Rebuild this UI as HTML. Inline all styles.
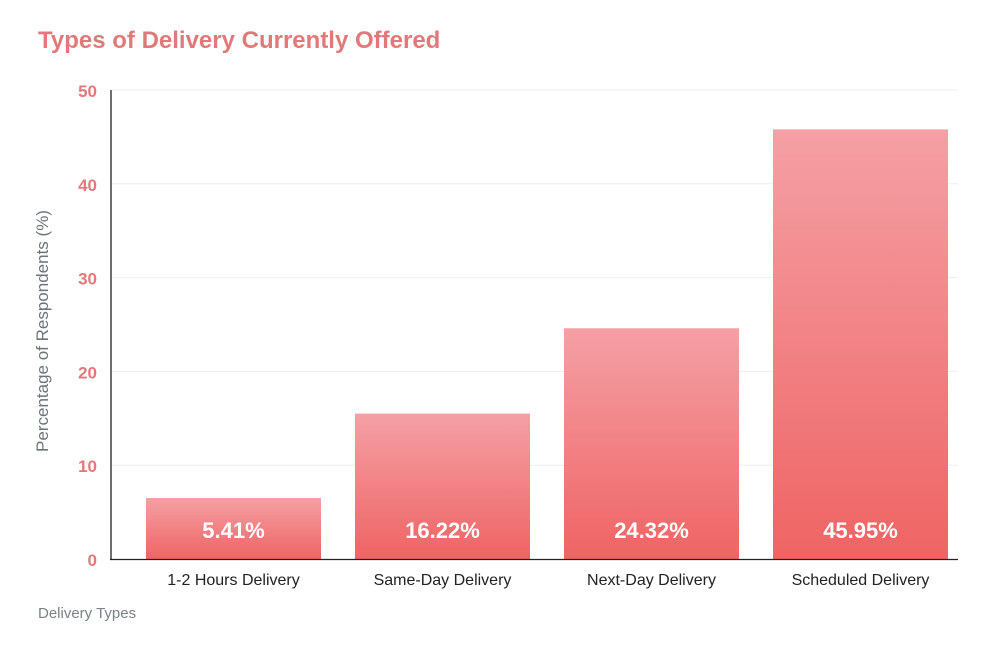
<!DOCTYPE html>
<html><head><meta charset="utf-8"><style>
body{margin:0;background:#fff;width:1000px;height:646px;overflow:hidden;font-family:"Liberation Sans",sans-serif}
</style></head><body>
<svg id="chart" width="1000" height="646" viewBox="0 0 1000 646" xmlns="http://www.w3.org/2000/svg">
<defs><linearGradient id="g" x1="0" y1="0" x2="0" y2="1"><stop offset="0" stop-color="#f4a0a5"/><stop offset="1" stop-color="#ef6464"/></linearGradient></defs>
<text x="38" y="48" font-size="24" font-weight="bold" fill="#e07a7a">Types of Delivery Currently Offered</text>
<text transform="translate(48,331) rotate(-90)" text-anchor="middle" font-size="17" fill="#6b7478">Percentage of Respondents (%)</text>
<text x="38" y="618" font-size="15" fill="#7a8286">Delivery Types</text>
<g id="grid"></g><g id="bars"></g>
<line x1="111" y1="90" x2="111" y2="560" stroke="#222" stroke-width="1.3"/>
<line x1="110" y1="559.5" x2="958" y2="559.5" stroke="#222" stroke-width="1.3"/>
</svg>
<script>
const categories=["1-2 Hours Delivery","Same-Day Delivery","Next-Day Delivery","Scheduled Delivery"];
const values=[6.5,15.5,24.6,45.8];
const valueLabels=["5.41%","16.22%","24.32%","45.95%"];
const yTicks=[0,10,20,30,40,50];
const NS="http://www.w3.org/2000/svg";
const y=v=>559-v*(469/50);
const x=i=>233.5+i*209;
const bw=175;
function mk(t,a,p){const e=document.createElementNS(NS,t);for(const k in a)e.setAttribute(k,a[k]);p.appendChild(e);return e;}
const grid=document.getElementById('grid'),bars=document.getElementById('bars');
yTicks.forEach(t=>{
 if(t>0){const l=mk('line',{x1:111,x2:958,y1:y(t),y2:y(t),stroke:'#eeeeee'},grid);
 
 }
 const tx=mk('text',{x:97,y:y(t)+7,'text-anchor':'end','font-size':17,'font-weight':'bold',fill:'#e07a7a'},grid);
 tx.textContent=t;
 
 
});
categories.forEach((c,i)=>{
 const r=mk('rect',{x:x(i)-bw/2,y:y(values[i]),width:bw,height:559-y(values[i]),fill:'url(#g)'},bars);
 
 
 const v=mk('text',{x:x(i),y:538,'text-anchor':'middle','font-size':22,'font-weight':'bold',fill:'#fff'},bars);
 v.textContent=valueLabels[i];
 
 
 const l=mk('text',{x:x(i),y:585,'text-anchor':'middle','font-size':16,fill:'#222'},bars);
 l.textContent=c;
 
 
});
</script>
</body></html>
